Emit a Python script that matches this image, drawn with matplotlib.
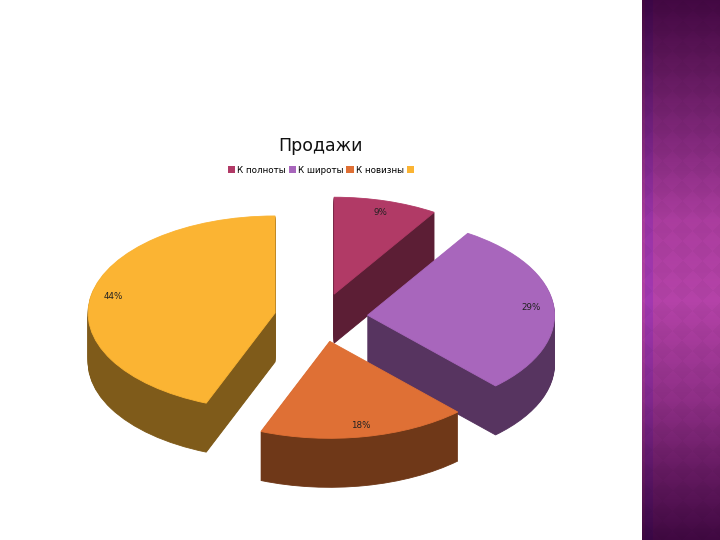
import numpy as np
import matplotlib
matplotlib.use("Agg")
import matplotlib.pyplot as plt
from matplotlib.patches import Patch

title = "Продажи"
categories = ["К полноты", "К широты", "К новизны", ""]
values = [9, 29, 18, 44]
colors = ["#B13A66", "#A866BC", "#DF7035", "#FBB433"]
side_colors = ["#5C1E35", "#573460", "#6F3818", "#7F5B1A"]
draw_rank = [1, 2, 4, 3]

W, H = 720, 540
cx, cy = 321.0, 317.5
rx, ry = 187.0, 97.0
depth = 49

fig = plt.figure(figsize=(7.2, 5.4), dpi=100, facecolor="white")
ax = fig.add_axes([0, 0, 1, 1])

explode = [0.25] * len(values)
for k in range(depth, 0, -1):
    wedges, _ = ax.pie(values, colors=side_colors, explode=explode, startangle=90,
                       counterclock=False, center=(0, -k / ry), frame=True)
    for w, r in zip(wedges, draw_rank):
        w.set_zorder(r + (depth - k) / 1000)
        w.set_edgecolor(w.get_facecolor())
        w.set_linewidth(0.6)

wedges, _, autotexts = ax.pie(values, colors=colors, explode=explode, startangle=90,
                              counterclock=False, center=(0, 0), frame=True,
                              autopct="%.0f%%", pctdistance=0.88,
                              textprops={"fontsize": 6.3, "color": "#222222"})
for w, r in zip(wedges, draw_rank):
    w.set_zorder(r + 0.5)
    w.set_edgecolor(w.get_facecolor())
    w.set_linewidth(0.6)
for t in autotexts:
    t.set_zorder(10)

ax.set_aspect("auto")
ax.set_xlim(-cx / rx, (W - cx) / rx)
ax.set_ylim((cy - H) / ry, cy / ry)
ax.axis("off")

fig.text(320 / W, 1 - 146 / H, title, ha="center", va="center", fontsize=12.5, color="#111111")

handles = [Patch(facecolor=c, edgecolor="none") for c in colors]
fig.legend(handles, categories, ncol=4, loc="center", bbox_to_anchor=(322 / W, 1 - 170 / H),
           frameon=False, fontsize=6.3, handlelength=0.85, handleheight=1.0,
           handletextpad=0.25, columnspacing=0.3, borderpad=0)

# decorative side panel
pax = fig.add_axes([642 / W, 0, 78 / W, 1])
yy, xx = np.mgrid[0:540, 0:78]
stops_y = [0, 60, 140, 220, 300, 400, 470, 540]
stops_c = np.array([[66, 8, 66], [92, 22, 88], [128, 40, 122], [168, 60, 156],
                    [178, 66, 166], [140, 46, 132], [100, 26, 96], [62, 8, 64]], float)
img = np.stack([np.interp(yy, stops_y, stops_c[:, i]) for i in range(3)], axis=-1)
img *= (1 + 0.015 * np.sign(np.sin((xx + yy) * np.pi / 20) * np.sin((xx - yy) * np.pi / 20)))[..., None]
img[:, 3:11] *= np.array([0.9, 0.85, 1.05])
pax.imshow(np.clip(img, 0, 255).astype(np.uint8), aspect="auto", interpolation="bilinear")
pax.axis("off")

fig.savefig("out.png", dpi=100, facecolor="white")
